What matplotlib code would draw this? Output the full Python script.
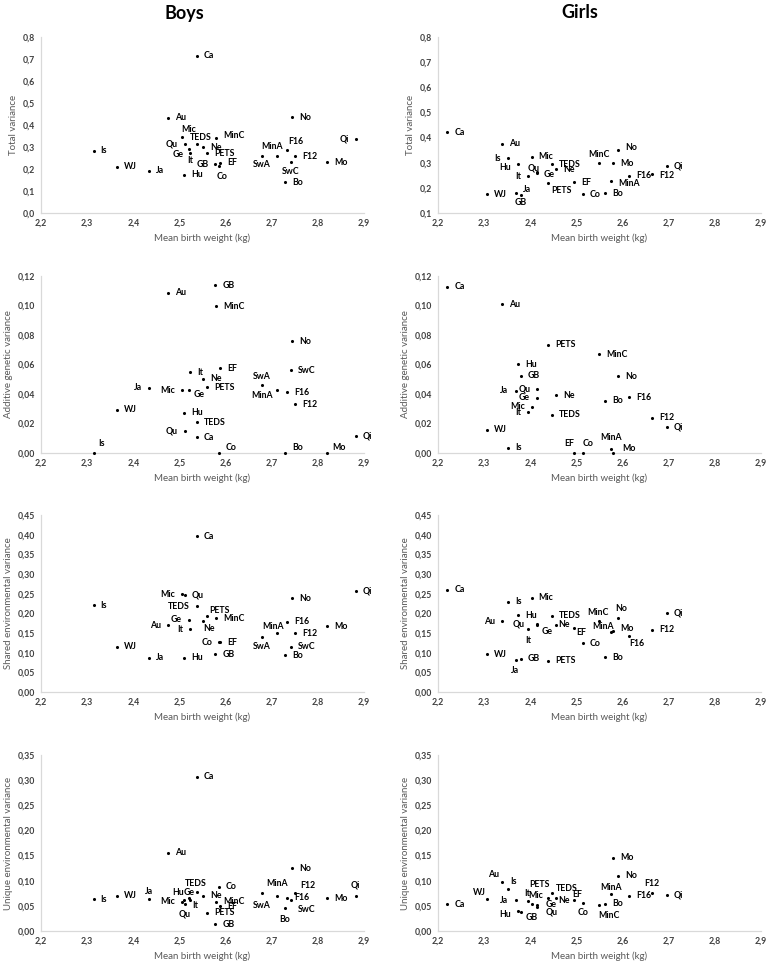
import numpy as np
import matplotlib
matplotlib.use("Agg")
import matplotlib.pyplot as plt
from matplotlib.ticker import FuncFormatter, MultipleLocator

plt.rcParams["font.family"] = ["Lato", "DejaVu Sans"]

# ---- data ----
boys_labels = ["Is", "WJ", "Ja", "Au", "Mic", "Qu", "Hu", "Ge", "It", "Ca", "TEDS", "Ne", "PETS",
               "GB", "MinC", "EF", "Co", "SwA", "MinA", "Bo", "F16", "SwC", "No", "F12", "Mo", "Qi"]
boys_bw = [2.314, 2.364, 2.434, 2.476, 2.505, 2.511, 2.510, 2.521, 2.523, 2.538, 2.538, 2.551, 2.560,
           2.578, 2.579, 2.588, 2.586, 2.679, 2.711, 2.729, 2.734, 2.742, 2.744, 2.751, 2.820, 2.882]
boys_total = [0.282, 0.210, 0.193, 0.433, 0.347, 0.312, 0.174, 0.291, 0.275, 0.714, 0.312, 0.299, 0.272,
              0.222, 0.343, 0.229, 0.213, 0.260, 0.258, 0.139, 0.285, 0.231, 0.436, 0.257, 0.231, 0.337]
boys_add = [0.0, 0.0292, 0.0443, 0.1087, 0.0425, 0.0151, 0.0273, 0.0425, 0.0549, 0.0108, 0.0208, 0.0504,
            0.0445, 0.1137, 0.0994, 0.0576, 0.0, 0.0461, 0.0425, 0.0, 0.0411, 0.0560, 0.0759, 0.0330,
            0.0, 0.0118]
boys_shared = [0.220, 0.115, 0.087, 0.170, 0.249, 0.246, 0.087, 0.184, 0.159, 0.396, 0.218, 0.180, 0.194,
               0.096, 0.187, 0.126, 0.127, 0.140, 0.149, 0.093, 0.178, 0.115, 0.238, 0.150, 0.167, 0.257]
boys_unique = [0.063, 0.070, 0.064, 0.156, 0.058, 0.053, 0.062, 0.065, 0.062, 0.307, 0.077, 0.070, 0.0365,
               0.013, 0.058, 0.049, 0.088, 0.075, 0.070, 0.046, 0.066, 0.062, 0.125, 0.075, 0.065, 0.070]

girls_labels = ["Ca", "WJ", "Au", "Is", "Ja", "Hu", "GB", "It", "Mic", "Ge", "Qu", "PETS", "TEDS",
                "Ne", "EF", "Co", "MinC", "Bo", "MinA", "Mo", "No", "F16", "F12", "Qi"]
girls_bw = [2.220, 2.307, 2.338, 2.352, 2.368, 2.374, 2.379, 2.395, 2.403, 2.414, 2.415, 2.438, 2.447,
            2.456, 2.495, 2.514, 2.549, 2.562, 2.575, 2.579, 2.591, 2.614, 2.664, 2.696]
girls_total = [0.422, 0.175, 0.376, 0.317, 0.181, 0.294, 0.173, 0.247, 0.323, 0.261, 0.265, 0.218, 0.294,
               0.274, 0.223, 0.175, 0.297, 0.178, 0.228, 0.298, 0.351, 0.248, 0.257, 0.288]
girls_add = [0.1128, 0.0156, 0.101, 0.0036, 0.0423, 0.0601, 0.0524, 0.0276, 0.0312, 0.0373, 0.0434,
             0.0734, 0.026, 0.0393, 0.0, 0.0, 0.0671, 0.0353, 0.0025, 0.0, 0.052, 0.0377, 0.024, 0.0179]
girls_shared = [0.260, 0.096, 0.180, 0.230, 0.081, 0.195, 0.084, 0.159, 0.240, 0.170, 0.172, 0.080, 0.194,
                0.171, 0.163, 0.124, 0.181, 0.088, 0.153, 0.154, 0.189, 0.143, 0.158, 0.200]
girls_unique = [0.053, 0.063, 0.097, 0.084, 0.061, 0.039, 0.037, 0.060, 0.054, 0.052, 0.048, 0.066, 0.075,
                0.066, 0.062, 0.055, 0.051, 0.054, 0.074, 0.146, 0.110, 0.070, 0.076, 0.071]

# ---- label placement (pixels, ha); anything not listed goes to the right ----
L = (-7, 0, "right")
offsets = {
    ("b", 0): {"Mic": (0, 7, "left"), "MinC": (7, 2, "left"), "Qi": L, "TEDS": (4, 7, "center"),
               "Qu": L, "F16": (1, 9, "left"), "Ge": (-5, -6, "right"), "It": (0, -8, "center"),
               "SwA": (0, -9, "center"), "MinA": (-5, 10, "center"), "SwC": (0, -9, "center"),
               "GB": L, "Co": (3, -10, "center")},
    ("b", 1): {"SwA": (0, 9, "center"), "Ja": L, "Mic": L, "Ge": (5, -4, "left"),
               "MinA": (-4, -5, "right"), "Qu": L, "Is": (5, 10, "left"), "Co": (7, 6, "left"),
               "Bo": (7, 6, "left"), "Mo": (5, 6, "left")},
    ("b", 2): {"Mic": L, "TEDS": L, "PETS": (2, 5, "left"), "Ge": L, "Ne": (0, -7, "left"),
               "Au": L, "It": L, "MinA": (-4, 7, "center"), "SwA": (0, -10, "center"), "Co": L},
    ("b", 3): {"TEDS": (-1, 9, "center"), "SwA": (0, -12, "center"), "MinA": (0, 12, "center"),
               "F12": (5, 8, "left"), "Qi": (0, 11, "center"), "SwC": (7, -10, "left"),
               "Ge": (0, 6, "center"), "Hu": (0, 7, "right"), "Ja": (0, 7, "center"), "Mic": L,
               "It": (2, -6, "left"), "Qu": (0, -10, "center"), "Bo": (0, -12, "center")},
    ("g", 0): {"Is": L, "Hu": (-7, -3, "right"), "MinC": (0, 9, "center"), "Qu": (2, 4, "right"),
               "Ge": (7, -2, "left"), "F12": (7, -2, "left"), "It": L, "MinA": (7, -3, "left"),
               "PETS": (3, -7, "left"), "Ja": (7, 3, "left"), "GB": (0, -8, "center"),
               "No": (7, 2, "left")},
    ("g", 1): {"Qu": L, "Ja": L, "Ge": L, "Mic": L, "It": L, "MinA": (0, 12, "center"),
               "EF": (0, 10, "right"), "Co": (0, 10, "left"), "Mo": (9, 5, "left")},
    ("g", 2): {"No": (3, 9, "center"), "MinC": (-1, 8, "center"), "Au": L, "Ne": (2, 0, "left"),
               "Ge": (5, -6, "left"), "Qu": (-13, 0, "right"), "EF": (2, -5, "left"),
               "It": (0, -11, "center"), "MinA": (-8, 5, "center"), "Mo": (7, 3, "left"),
               "F16": (0, -8, "left"), "Ja": (0, -10, "center")},
    ("g", 3): {"Au": (-3, 8, "right"), "Is": (2, 7, "left"), "F12": (0, 9, "center"),
               "TEDS": (4, 5, "left"), "MinA": (0, 6, "center"), "PETS": (-8, 13, "center"),
               "Ne": (2, -3, "left"), "WJ": (-2, 7, "right"), "EF": (-2, 5, "left"), "Ja": L,
               "It": (2, 7, "right"), "Mic": (-3, 8, "left"), "Co": (0, -9, "center"),
               "MinC": (-1, -10, "left"), "Ge": (9, 0, "left"), "Qu": (8, -5, "left"),
               "Hu": (-7, -3, "right"), "GB": (5, -5, "left")},
}

ylabels = ["Total variance", "Additive genetic variance",
           "Shared environmental variance", "Unique environmental variance"]
ylims = {"b": [(0, 0.8), (0, 0.12), (0, 0.45), (0, 0.35)],
         "g": [(0.1, 0.8), (0, 0.12), (0, 0.45), (0, 0.35)]}
ysteps = [0.1, 0.02, 0.05, 0.05]
ydec = [1, 2, 2, 2]

sexes = {
    "b": (boys_labels, boys_bw, [boys_total, boys_add, boys_shared, boys_unique]),
    "g": (girls_labels, girls_bw, [girls_total, girls_add, girls_shared, girls_unique]),
}

W, H = 771, 968
fig = plt.figure(figsize=(W / 100, H / 100), dpi=100)

rows_px = [(37, 213), (276, 453), (515, 692), (755, 931)]
cols_px = {"b": (41, 364), "g": (438, 761)}

axis_grey = "#d9d9d9"
tick_col = "#404040"
label_col = "#595959"


def comma_fmt(dec):
    return FuncFormatter(lambda v, _: f"{v:.{dec}f}".replace(".", ","))


for key, (labels, bw, series) in sexes.items():
    x0, x1 = cols_px[key]
    for r, (top, bot) in enumerate(rows_px):
        ax = fig.add_axes([x0 / W, 1 - bot / H, (x1 - x0) / W, (bot - top) / H])
        vals = series[r]
        ax.scatter(bw, vals, s=5, color="black", zorder=3, clip_on=False, linewidths=0)
        offs = offsets.get((key, r), {})
        for lab, xv, yv in zip(labels, bw, vals):
            dx, dy, ha = offs.get(lab, (7, 0, "left"))
            ax.annotate(lab, (xv, yv), xytext=(dx, dy), textcoords="offset pixels",
                        ha=ha, va="center", fontsize=6.3, fontweight="bold", color="black")
        ax.set_xlim(2.2, 2.9)
        ax.set_ylim(*ylims[key][r])
        ax.xaxis.set_major_locator(MultipleLocator(0.1))
        ax.yaxis.set_major_locator(MultipleLocator(ysteps[r]))
        ax.xaxis.set_major_formatter(comma_fmt(1))
        ax.yaxis.set_major_formatter(comma_fmt(ydec[r]))
        for side in ["top", "right"]:
            ax.spines[side].set_visible(False)
        for side in ["left", "bottom"]:
            ax.spines[side].set_color(axis_grey)
            ax.spines[side].set_linewidth(0.9)
        ax.tick_params(length=0, labelsize=6.3, colors=tick_col, pad=4)
        for t in ax.get_xticklabels() + ax.get_yticklabels():
            t.set_fontweight("bold")
        ax.set_ylabel(ylabels[r], fontsize=7, color=label_col)
        ax.set_xlabel("Mean birth weight (kg)", fontsize=7, color=label_col, labelpad=4)

fig.text(184 / W, 1 - 13 / H, "Boys", ha="center", va="center", fontsize=13, fontweight="bold")
fig.text(580 / W, 1 - 13 / H, "Girls", ha="center", va="center", fontsize=13, fontweight="bold")

fig.savefig("out.png", dpi=100)
